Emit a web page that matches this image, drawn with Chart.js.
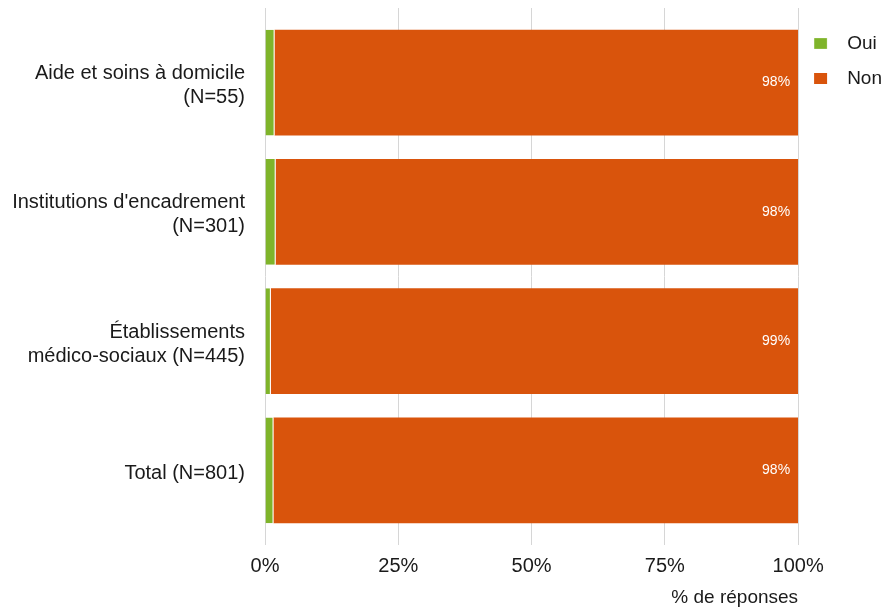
<!DOCTYPE html>
<html>
<head>
<meta charset="utf-8">
<script src="https://cdn.jsdelivr.net/npm/chart.js@4.4.1/dist/chart.umd.min.js"></script>
<style>
  html, body { margin: 0; padding: 0; background: #fff; }
  #wrap { width: 885px; height: 609px; }
</style>
</head>
<body>
<div id="wrap"><canvas id="chart"></canvas></div>
<script>
var categories = [
  ['Aide et soins à domicile', '(N=55)'],
  ["Institutions d'encadrement", '(N=301)'],
  ['Établissements', 'médico-sociaux (N=445)'],
  'Total (N=801)'
];
var oui = [1.8, 2.0, 1.1, 1.6];
var non = [98.2, 98.0, 98.9, 98.4];
var xTicks = [0, 25, 50, 75, 100];

var green = '#7fb42a';
var orange = '#d9540c';
var gridColor = '#d6d6d6';
var family = '"Liberation Sans", Arial, sans-serif';

// lines above the plot area, like the reference
var gridTop = {
  id: 'gridTop',
  beforeDatasetsDraw: function (chart) {
    var ctx = chart.ctx, x = chart.scales.x, top = chart.chartArea.top;
    ctx.save();
    ctx.strokeStyle = gridColor;
    ctx.lineWidth = 1;
    xTicks.forEach(function (t) {
      var px = Math.round(x.getPixelForValue(t) - 0.5) + 0.5;
      ctx.beginPath();
      ctx.moveTo(px, top - 10);
      ctx.lineTo(px, top);
      ctx.stroke();
    });
    ctx.restore();
  }
};

// percent labels inside the orange bars
var barLabels = {
  id: 'barLabels',
  afterDatasetsDraw: function (chart) {
    var ctx = chart.ctx;
    var meta = chart.getDatasetMeta(1);
    ctx.save();
    ctx.fillStyle = '#ffffff';
    ctx.font = '14px ' + family;
    ctx.textAlign = 'right';
    ctx.textBaseline = 'middle';
    meta.data.forEach(function (bar, i) {
      ctx.fillText(Math.round(non[i]) + '%', bar.x - 8, bar.y);
    });
    ctx.restore();
  }
};

Chart.defaults.font.family = family;
Chart.defaults.color = '#1a1a1a';

var ctx = document.getElementById('chart');
var myChart = new Chart(ctx, {
  type: 'bar',
  data: {
    labels: categories,
    datasets: [{
      label: 'Oui',
      data: oui,
      backgroundColor: green,
      borderColor: '#ffffff',
      borderWidth: { right: 1 },
      borderSkipped: false,
      categoryPercentage: 0.82,
      barPercentage: 1.0
    }, {
      label: 'Non',
      data: non,
      backgroundColor: orange,
      borderColor: '#ffffff',
      borderWidth: 0,
      categoryPercentage: 0.82,
      barPercentage: 1.0
    }]
  },
  plugins: [gridTop, barLabels],
  options: {
    indexAxis: 'y',
    responsive: true,
    maintainAspectRatio: false,
    animation: false,
    layout: {
      padding: { left: 12, right: -7, top: 18, bottom: 0 }
    },
    scales: {
      x: {
        stacked: true,
        min: 0,
        max: 100,
        afterBuildTicks: function (axis) {
          axis.ticks = xTicks.map(function (v) { return { value: v }; });
        },
        afterFit: function (axis) {
          axis.height = 74;
          axis.paddingLeft = 0;
          axis.paddingRight = 0;
        },
        border: { display: false },
        grid: {
          color: gridColor,
          tickColor: gridColor,
          tickLength: 10,
          drawTicks: true
        },
        ticks: {
          font: { family: family, size: 20 },
          padding: 9,
          maxRotation: 0,
          callback: function (v) { return v + '%'; }
        },
        title: {
          display: true,
          text: '% de réponses',
          align: 'end',
          font: { family: family, size: 19 },
          padding: { top: 8, bottom: 0 }
        }
      },
      y: {
        stacked: true,
        afterFit: function (axis) {
          axis.width = 253;
          axis.paddingTop = 0;
          axis.paddingBottom = 0;
        },
        border: { display: false },
        grid: { display: false },
        ticks: {
          font: { family: family, size: 20, lineHeight: 1.2 },
          padding: 12,
          labelOffset: 3
        }
      }
    },
    plugins: {
      legend: {
        position: 'right',
        align: 'start',
        labels: {
          boxWidth: 13,
          boxHeight: 11,
          padding: 16,
          font: { family: family, size: 19 },
          generateLabels: function (chart) {
            var items = Chart.defaults.plugins.legend.labels.generateLabels(chart);
            items.forEach(function (it) { it.text = '  ' + it.text; });
            return items;
          }
        }
      },
      tooltip: { enabled: false }
    }
  }
});
</script>
</body>
</html>
